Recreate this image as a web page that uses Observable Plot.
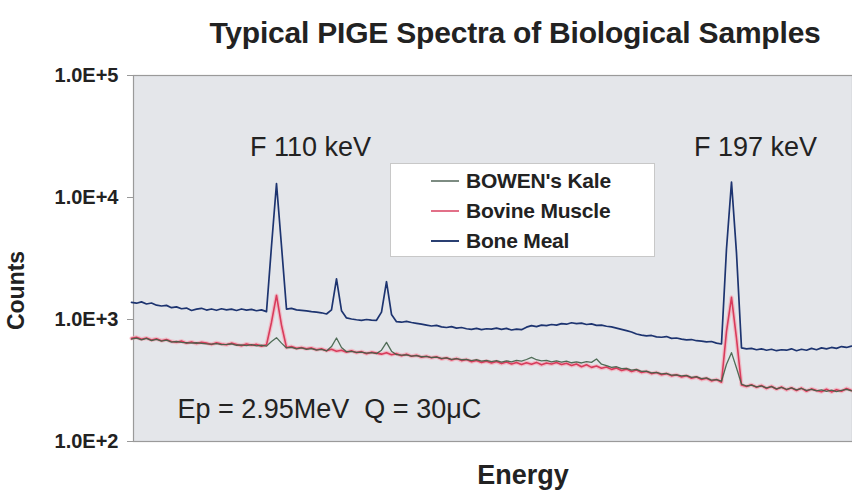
<!DOCTYPE html>
<html>
<head>
<meta charset="utf-8">
<script src="https://cdn.jsdelivr.net/npm/d3@7"></script>
<script src="https://cdn.jsdelivr.net/npm/@observablehq/plot@0.6"></script>
<style>
  html, body { margin: 0; padding: 0; background: #fff; }
  #wrap { position: relative; width: 852px; height: 493px; font-family: "Liberation Sans", Arial, sans-serif; }
  #title { height: 55px; line-height: 66px; text-align: center; padding-left: 178px; box-sizing: border-box;
           font-size: 30px; font-weight: bold; color: #222; letter-spacing: -0.2px; white-space: nowrap; }
  #legend { position: absolute; left: 390px; top: 163px; width: 265px; height: 94px; background: #fff;
            border: 1px solid #c8c8c8; box-sizing: border-box; }
  .row { position: absolute; left: 40px; height: 24px; display: flex; align-items: center; }
  .sw { width: 28px; height: 0; border-top: 2px solid; margin-right: 7px; }
  .lab { font-size: 21px; font-weight: bold; color: #222; letter-spacing: -0.2px; white-space: nowrap; }
</style>
</head>
<body>
<div id="wrap">
  <div id="title">Typical PIGE Spectra of Biological Samples</div>
  <div id="chart"></div>
  <div id="legend"></div>
</div>
<script>
// ---- data ----
const channels = [0,5,10,15,20,25,30,35,40,45,50,55,60,65,70,75,80,85,90,95,100,105,110,115,120,125,130,135,140,145,150,155,160,165,170,175,180,185,190,195,200,205,210,215,220,225,230,235,240,245,250,255,260,265,270,275,280,285,290,295,300,305,310,315,320,325,330,335,340,345,350,355,360,365,370,375,380,385,390,395,400,405,410,415,420,425,430,435,440,445,450,455,460,465,470,475,480,485,490,495,500,505,510,515,520,525,530,535,540,545,550,555,560,565,570,575,580,585,590,595,600,605,610,615,620,625,630,635,640,645,650,655,660,665,670,675,680,685,690,695,700,705,710,715,720];

const boneMeal = [1380,1360,1395,1340,1365,1310,1290,1305,1250,1270,1225,1240,1185,1215,1235,1195,1220,1190,1225,1200,1215,1185,1220,1195,1210,1180,1200,1160,4000,13000,4000,1215,1235,1200,1190,1175,1160,1150,1135,1110,1200,2150,1180,1030,1010,995,985,1000,990,985,1150,2040,1100,960,950,965,945,930,915,900,885,895,870,860,875,850,860,840,830,845,825,840,835,850,830,845,820,835,825,865,890,875,900,890,910,900,925,915,940,925,935,910,920,895,900,880,870,850,830,810,790,760,745,735,740,720,715,725,700,705,690,680,685,670,665,655,660,640,630,3800,13400,3500,585,575,580,565,575,560,570,555,565,560,575,555,570,560,580,565,585,575,590,580,600,590,605];

const bovineMuscle = [700,715,690,705,680,695,670,685,660,650,665,640,655,635,650,640,625,645,630,620,640,625,610,630,615,625,605,620,950,1575,900,590,600,580,590,575,585,565,575,555,570,550,560,540,555,535,545,525,540,530,520,535,515,525,505,520,500,510,490,500,485,495,475,485,465,480,460,470,450,462,445,455,440,452,435,448,432,445,428,442,430,445,425,440,432,445,428,438,420,432,410,425,405,415,398,408,390,400,382,392,375,385,368,375,360,368,352,360,345,352,338,346,330,338,322,330,314,322,306,800,1520,700,290,282,292,278,288,272,284,268,280,265,276,262,274,258,270,262,256,268,255,266,258,272,262];

const bowensKale = [690,705,680,700,672,688,665,678,652,660,650,645,640,645,638,632,628,635,622,625,630,615,620,610,622,608,615,605,660,710,640,585,592,575,585,568,578,560,568,552,600,705,590,545,548,538,540,530,535,525,560,650,550,515,510,512,500,505,495,498,488,492,480,485,472,478,468,472,460,468,455,462,452,460,448,458,450,462,455,470,490,468,458,462,450,458,448,455,442,450,440,452,445,475,430,418,405,410,395,398,385,390,375,378,365,368,358,362,350,352,345,348,335,340,328,332,318,322,312,430,535,400,295,285,290,280,285,275,282,270,278,268,275,265,272,262,268,260,265,258,264,256,262,268,260];

const seriesNames = ["BOWEN's Kale", "Bovine Muscle", "Bone Meal"];
const seriesColors = ["#3f5f47", "#d83c5c", "#1d3470"];
const legendSwatches = ["#7d8c82", "#e27088", "#2a3f72"];

const yTicks = [100, 1000, 10000, 100000];
const yTickLabels = ["1.0E+2", "1.0E+3", "1.0E+4", "1.0E+5"];

const peakLabels = ["F 110 keV", "F 197 keV"];
const peakLabelChannels = [179, 624];
const peakLabelCounts = [26000, 26000];

const conditionText = "Ep = 2.95MeV  Q = 30\u03BCC";
const conditionChannel = 46;
const conditionCounts = 185;

const yAxisTitle = "Counts";
const yAxisTitleCounts = 1730;
const xAxisTitle = "Energy";

// ---- build ----
const rows = (vals) => channels.map((c, i) => ({ch: c, v: vals[i]}));
const kale = rows(bowensKale), muscle = rows(bovineMuscle), meal = rows(boneMeal);
const annos = peakLabels.map((t, i) => ({t, ch: peakLabelChannels[i], v: peakLabelCounts[i]}));

const chart = Plot.plot({
  width: 852,
  height: 438,
  marginLeft: 133,
  marginRight: 0,
  marginTop: 20,
  marginBottom: 52,
  style: {fontFamily: "'Liberation Sans', Arial, sans-serif", background: "transparent", overflow: "visible"},
  x: {domain: [2, 721], axis: null},
  y: {type: "log", domain: [100, 100000], axis: null},
  marks: [
    Plot.frame({fill: "#e4e6ea", stroke: "#9a9a9a", strokeWidth: 1.2}),
    Plot.tickY(yTicks, {y: d => d, stroke: "#999", insetLeft: -6, insetRight: 719, strokeWidth: 1}),
    Plot.text(yTicks, {y: d => d, text: (d, i) => yTickLabels[i], frameAnchor: "left", textAnchor: "end",
      dx: -15, fontSize: 20, fontWeight: "bold", fill: "#222", letterSpacing: "-0.2px"}),
    Plot.line(meal, {x: "ch", y: "v", stroke: seriesColors[2], strokeWidth: 1.7}),
    Plot.line(muscle, {x: "ch", y: "v", stroke: "#f3a9b8", strokeWidth: 4, strokeOpacity: 0.7}),
    Plot.line(muscle, {x: "ch", y: "v", stroke: seriesColors[1], strokeWidth: 1.6}),
    Plot.line(kale, {x: "ch", y: "v", stroke: seriesColors[0], strokeWidth: 1.3, strokeOpacity: 0.9}),
    Plot.text(annos, {x: "ch", y: "v", text: "t", fontSize: 27, fill: "#222"}),
    Plot.text([conditionText], {x: conditionChannel, y: conditionCounts, textAnchor: "start", fontSize: 27, fill: "#222", letterSpacing: "-0.1px"}),
    Plot.text([yAxisTitle], {frameAnchor: "left", y: yAxisTitleCounts, dx: -117, rotate: -90, textAnchor: "middle", fontSize: 23, fontWeight: "bold", fill: "#222"}),
    Plot.text([xAxisTitle], {frameAnchor: "bottom", dx: 30, dy: 42, fontSize: 27, fontWeight: "bold", fill: "#222", letterSpacing: "-0.5px"})
  ]
});
document.getElementById("chart").appendChild(chart);

// legend
const leg = document.getElementById("legend");
seriesNames.forEach((n, i) => {
  const r = document.createElement("div");
  r.className = "row";
  r.style.top = (5 + i * 30) + "px";
  r.innerHTML = `<span class="sw" style="border-color:${legendSwatches[i]}"></span><span class="lab">${n}</span>`;
  leg.appendChild(r);
});
</script>
</body>
</html>
